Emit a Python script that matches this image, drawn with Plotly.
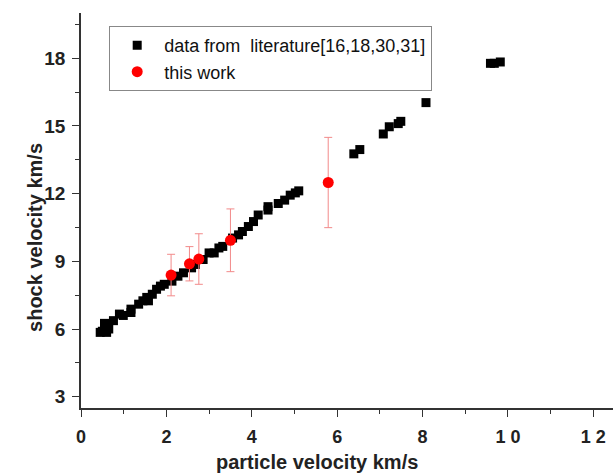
import plotly.graph_objects as go

# Literature data (particle velocity, shock velocity), km/s
lit_up = [0.45, 0.50, 0.55, 0.55, 0.60, 0.65, 0.60, 0.76, 0.90, 0.99, 1.17, 1.17,
          1.35, 1.45, 1.54, 1.58, 1.67, 1.77, 1.86, 1.95, 2.13, 2.27, 2.40, 2.59,
          2.68, 2.86, 3.00, 3.12, 3.23, 3.32, 3.55, 3.69, 3.78, 3.92, 4.04, 4.15,
          4.38, 4.38, 4.62, 4.77, 4.90, 5.02, 5.10, 6.39, 6.53, 7.08, 7.22, 7.43,
          7.49, 8.08, 9.59, 9.68, 9.82]
lit_us = [5.85, 5.90, 6.10, 6.25, 5.85, 6.00, 6.20, 6.37, 6.66, 6.60, 6.88, 6.73,
          7.10, 7.25, 7.40, 7.25, 7.54, 7.76, 7.90, 7.98, 8.12, 8.34, 8.49, 8.71,
          8.86, 9.08, 9.37, 9.37, 9.59, 9.66, 10.03, 10.17, 10.32, 10.54, 10.76, 11.05,
          11.27, 11.42, 11.56, 11.71, 11.93, 12.03, 12.12, 13.76, 13.95, 14.64, 14.96, 15.10,
          15.20, 16.03, 17.77, 17.77, 17.83]

# This work
tw_up = [2.11, 2.54, 2.76, 3.50, 5.79]
tw_us = [8.39, 8.89, 9.10, 9.93, 12.49]
tw_err_us = [0.92, 0.76, 1.12, 1.39, 2.00]
tw_err_up = [0.0, 0.0, 0.0, 0.0, 0.12]

x_tickvals = [0, 2, 4, 6, 8, 10, 12]
x_ticktext = ["0", "2", "4", "6", "8", "1 0", "1 2"]
y_tickvals = [3, 6, 9, 12, 15, 18]

x_title = "particle velocity km/s"
y_title = "shock velocity km/s"

FONT = "Liberation Sans, Arial, sans-serif"

fig = go.Figure()
fig.add_trace(go.Scatter(
    x=lit_up, y=lit_us, mode="markers", name="data from  literature[16,18,30,31]",
    marker=dict(symbol="square", size=9, color="black"),
))
fig.add_trace(go.Scatter(
    x=tw_up, y=tw_us, mode="markers", name="this work",
    marker=dict(symbol="circle", size=11, color="#ff0000"),
    error_y=dict(type="data", array=tw_err_us, visible=True, color="#f28a8a",
                 thickness=1, width=4),
    error_x=dict(type="data", array=tw_err_up, visible=True, color="#f28a8a",
                 thickness=1, width=0),
))

axis_common = dict(
    showline=True, linecolor="#333333", linewidth=1.5, mirror=False,
    showgrid=False, zeroline=False, ticks="outside", ticklen=7, tickwidth=1.2,
    tickcolor="#333333",
)

fig.update_xaxes(
    range=[0, 12.46], tickvals=x_tickvals, ticktext=x_ticktext,
    minor=dict(dtick=1, tick0=0, ticks="outside", ticklen=4, tickcolor="#333333"),
    tickfont=dict(family=FONT, size=18, color="#222222", weight="bold"),
    ticklabelstandoff=5,
    **axis_common,
)
fig.update_yaxes(
    range=[2.5, 20], tickvals=y_tickvals,
    minor=dict(dtick=1.5, tick0=3, ticks="outside", ticklen=4, tickcolor="#333333"),
    tickfont=dict(family=FONT, size=19, color="#222222", weight="bold"),
    ticklabelstandoff=3,
    **axis_common,
)

fig.add_annotation(
    text=x_title, xref="paper", yref="paper", x=0.4436, y=-0.136,
    xanchor="center", yanchor="middle", showarrow=False,
    font=dict(family=FONT, size=20, color="#222222", weight="bold"),
)
fig.add_annotation(
    text=y_title, xref="paper", yref="paper", x=-0.0865, y=0.433,
    xanchor="center", yanchor="middle", showarrow=False, textangle=-90,
    font=dict(family=FONT, size=20, color="#222222", weight="bold"),
)

fig.update_layout(
    width=613, height=474,
    margin=dict(l=81, r=0, t=13, b=66),
    paper_bgcolor="white", plot_bgcolor="white",
    showlegend=True,
    legend=dict(x=0.053, y=0.967, xanchor="left", yanchor="top",
                bordercolor="#888888", borderwidth=1, bgcolor="white",
                font=dict(family=FONT, size=18, color="#111111"),
                tracegroupgap=0, itemwidth=44),
)

fig.write_html("out.html")
